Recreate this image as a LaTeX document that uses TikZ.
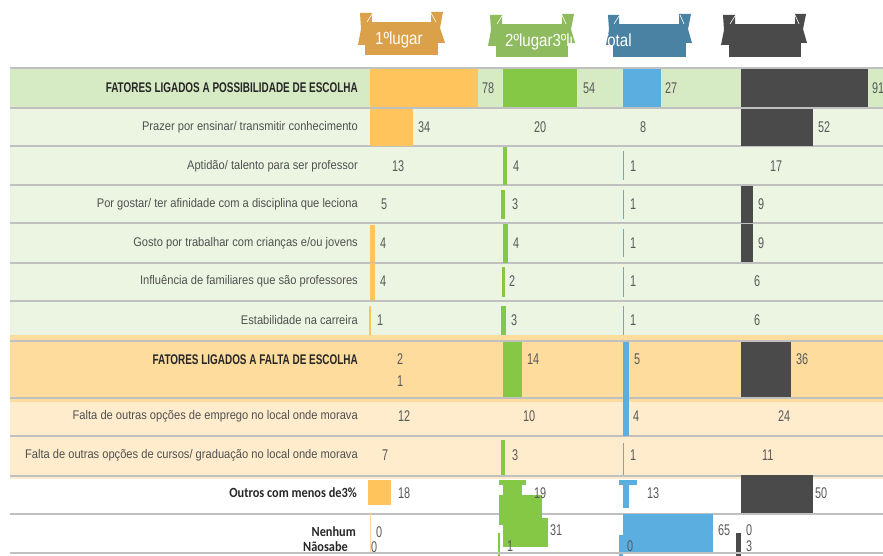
\documentclass[tikz,border=0pt]{standalone}
\usepackage{fontspec}
\setmainfont{Liberation Sans}[FakeStretch=0.89]
\newfontfamily\numfont{Liberation Sans}[FakeStretch=0.70]
\newfontfamily\ribbonfont{Liberation Sans}[FakeStretch=0.86]
\newfontfamily\headfont{Liberation Sans}[FakeStretch=0.71]
\newfontfamily\calfont{Carlito}[FakeStretch=0.88]
\usepackage{tikz}

\definecolor{barone}{RGB}{255,196,92}
\definecolor{bartwo}{RGB}{133,200,69}
\definecolor{barthree}{RGB}{90,175,224}
\definecolor{bartotal}{RGB}{74,74,74}
\definecolor{ribone}{RGB}{219,160,74}
\definecolor{ribtwo}{RGB}{141,187,94}
\definecolor{ribthree}{RGB}{74,130,163}
\definecolor{greenhead}{RGB}{214,235,196}
\definecolor{greenrow}{RGB}{236,245,226}
\definecolor{orangehead}{RGB}{253,220,158}
\definecolor{orangerow}{RGB}{254,236,204}
\definecolor{rulegray}{RGB}{192,192,192}
\definecolor{numgray}{RGB}{89,89,89}
\definecolor{textgray}{RGB}{80,80,80}

\tikzset{
  rowtext/.style={anchor=east, inner sep=0pt, text=textgray,
                  font=\fontsize{12.5}{13}\selectfont},
  rowhead/.style={anchor=east, inner sep=0pt, text=black!85,
                  font=\headfont\bfseries\fontsize{14}{14}\selectfont},
  othertext/.style={anchor=east, inner sep=0pt, text=black!85,
                  font=\calfont\bfseries\fontsize{14}{14}\selectfont},
  num/.style={anchor=west, inner sep=0pt, text=numgray,
              font=\numfont\fontsize{15.5}{16}\selectfont},
  rowline/.style={draw=rulegray, line width=1.5pt},
  ribtext/.style={anchor=west, inner sep=0pt, text=white,
                  font=\ribbonfont\fontsize{17.5}{18}\selectfont},
  fold/.style={draw=white!75, line width=0.6pt}
}

\begin{document}
\begin{tikzpicture}[x=1pt,y=-1pt]
        \useasboundingbox (0,0) rectangle (883,556);
        \clip (0,0) rectangle (883,556);

        % ribbons
        \fill[ribone] (360,13) -- (372,13) -- (372,45) -- (358,45) -- (361,29) -- cycle;
        \fill[ribone] (431,12) -- (443,12) -- (440,28) -- (445,43) -- (431,43) -- cycle;
        \fill[ribone] (365,22) rectangle (438,55);
        \draw[fold] (367,22) -- (372,14);
        \draw[fold] (436,22) -- (431,13);
        \fill[ribtwo] (490,15) -- (502,15) -- (502,46) -- (488,46) -- (491,30) -- cycle;
        \fill[ribtwo] (562,14) -- (574,14) -- (571,29) -- (575,43) -- (562,43) -- cycle;
        \fill[ribtwo] (496,24) rectangle (568,57);
        \draw[fold] (497,24) -- (502,16);
        \draw[fold] (566,24) -- (562,15);
        \fill[ribthree] (608,15) -- (619,15) -- (619,45) -- (606,45) -- (609,30) -- cycle;
        \fill[ribthree] (679,14) -- (691,14) -- (688,29) -- (692,43) -- (679,43) -- cycle;
        \fill[ribthree] (613,24) rectangle (686,57);
        \draw[fold] (614,24) -- (619,16);
        \draw[fold] (684,24) -- (680,15);
        \fill[bartotal] (723,15) -- (735,15) -- (735,45) -- (721,45) -- (724,30) -- cycle;
        \fill[bartotal] (795,14) -- (806,14) -- (803,29) -- (807,43) -- (795,43) -- cycle;
        \fill[bartotal] (729,24) rectangle (801,57);
        \draw[fold] (730,24) -- (735,16);
        \draw[fold] (799,24) -- (795,15);
        \node[ribtext] (first) at (375,40) {1ºlugar};
        \node[ribtext] (others) at (505,42) {2ºlugar3ºlugarTotal};

        % row backgrounds
        \fill[greenhead] (10,68) rectangle (883,108);
        \fill[greenrow] (10,108) rectangle (883,335);
        \fill[orangehead] (10,335) rectangle (883,402);
        \fill[orangerow] (10,402) rectangle (883,476);
        \fill[orangerow] (10,476) rectangle (883,479);

        % rules
        \draw[rowline] (10,68) -- (883,68);
        \draw[rowline] (10,108) -- (883,108);
        \draw[rowline] (10,146) -- (883,146);
        \draw[rowline] (10,185) -- (883,185);
        \draw[rowline] (10,223) -- (883,223);
        \draw[rowline] (10,263) -- (883,263);
        \draw[rowline] (10,301) -- (883,301);
        \draw[rowline] (10,341) -- (883,341);
        \draw[rowline] (10,398) -- (883,398);
        \draw[rowline] (10,436) -- (883,436);
        \draw[rowline] (10,476) -- (883,476);
        \draw[rowline] (10,514) -- (883,514);

        % bars
        \fill[barone] (370,69) rectangle (478,107);
        \fill[bartwo] (503,69) rectangle (577,107);
        \fill[barthree] (623,69) rectangle (661,107);
        \fill[bartotal] (741,69) rectangle (868,107);
        \fill[barone] (370,109) rectangle (413,146);
        \fill[bartotal] (741,109) rectangle (813,146);
        \fill[bartwo] (503,147) rectangle (507,185);
        \fill[barthree] (622.5,151) rectangle (624,180);
        \fill[bartwo] (501,190) rectangle (505,219);
        \fill[barthree] (622.5,190) rectangle (624,219);
        \fill[bartotal] (741,186) rectangle (753,223);
        \fill[barone] (370,225) rectangle (375,262);
        \fill[bartwo] (503,224) rectangle (508,263);
        \fill[barthree] (622.5,229) rectangle (624,257);
        \fill[bartotal] (741,224) rectangle (753,262);
        \fill[barone] (370,263) rectangle (375,300);
        \fill[bartwo] (502,267) rectangle (505,297);
        \fill[barthree] (622.5,267) rectangle (624,297);
        \fill[barone] (369,306) rectangle (371,335);
        \fill[bartwo] (501,306) rectangle (506,335);
        \fill[barthree] (622.5,306) rectangle (624,335);
        \fill[bartwo] (503,342) rectangle (522,397);
        \fill[barthree] (623,342) rectangle (629,436);
        \fill[bartotal] (741,342) rectangle (791,397);
        \fill[bartwo] (501,440) rectangle (505,475);
        \fill[barthree] (622.5,443) rectangle (624,475);
        \fill[barone] (368,480) rectangle (391,505);
        \fill[bartwo] (499,480) rectangle (526,485);
        \fill[bartwo] (503,485) rectangle (522,495);
        \fill[bartwo] (499,495) rectangle (542,525);
        \fill[bartwo] (503,518) rectangle (548,547);
        \fill[bartwo] (498,533) rectangle (500,556);
        \fill[barthree] (619,480) rectangle (637,485);
        \fill[barthree] (623,485) rectangle (629,508);
        \fill[barthree] (623,514) rectangle (713,552);
        \fill[barthree] (619,535) rectangle (623,556);
        \fill[bartotal] (741,475) rectangle (813,513);
        \fill[bartotal] (736,533) rectangle (741,556);
        \fill[barone!60] (370,514) rectangle (371,552);

        % row labels
        \node[rowhead] (headpos) at (358,88) {FATORES LIGADOS A POSSIBILIDADE DE ESCOLHA};
        \node[rowtext] (prazer) at (358,127) {Prazer por ensinar/ transmitir conhecimento};
        \node[rowtext] (aptidao) at (358,166) {Aptidão/ talento para ser professor};
        \node[rowtext] (gostar) at (358,204) {Por gostar/ ter afinidade com a disciplina que leciona};
        \node[rowtext] (criancas) at (358,243) {Gosto por trabalhar com crianças e/ou jovens};
        \node[rowtext] (familia) at (358,281) {Influência de familiares que são professores};
        \node[rowtext] (estab) at (358,320) {Estabilidade na carreira};
        \node[rowhead] (headfalta) at (358,360) {FATORES LIGADOS A FALTA DE ESCOLHA};
        \node[rowtext] (emprego) at (358,416) {Falta de outras opções de emprego no local onde morava};
        \node[rowtext] (cursos) at (358,455) {Falta de outras opções de cursos/ graduação no local onde morava};
        \node[othertext] (outros) at (357,493) {Outros com menos de3\%};
        \node[othertext] (nenhum) at (356,532) {Nenhum};
        \node[othertext] (naosabe) at (348,547) {Nãosabe};

        % values
        \node[num] (va1) at (482,88) {78};
        \node[num] (vb1) at (583,88) {54};
        \node[num] (vc1) at (665,88) {27};
        \node[num] (vt1) at (872,88) {91};
        \node[num] (va2) at (418,127) {34};
        \node[num] (vb2) at (534,127) {20};
        \node[num] (vc2) at (640,127) {8};
        \node[num] (vt2) at (818,127) {52};
        \node[num] (va3) at (392,166) {13};
        \node[num] (vb3) at (513,166) {4};
        \node[num] (vc3) at (630,166) {1};
        \node[num] (vt3) at (770,166) {17};
        \node[num] (va4) at (381,204) {5};
        \node[num] (vb4) at (512,204) {3};
        \node[num] (vc4) at (630,204) {1};
        \node[num] (vt4) at (758,204) {9};
        \node[num] (va5) at (380,243) {4};
        \node[num] (vb5) at (513,243) {4};
        \node[num] (vc5) at (630,243) {1};
        \node[num] (vt5) at (758,243) {9};
        \node[num] (va6) at (380,281) {4};
        \node[num] (vb6) at (509,281) {2};
        \node[num] (vc6) at (630,281) {1};
        \node[num] (vt6) at (754,281) {6};
        \node[num] (va7) at (377,320) {1};
        \node[num] (vb7) at (511,320) {3};
        \node[num] (vc7) at (630,320) {1};
        \node[num] (vt7) at (754,320) {6};
        \node[num] (va8) at (397,359) {2};
        \node[num] (va8b) at (397,381) {1};
        \node[num] (vb8) at (527,359) {14};
        \node[num] (vc8) at (634,359) {5};
        \node[num] (vt8) at (796,359) {36};
        \node[num] (va9) at (398,416) {12};
        \node[num] (vb9) at (523,416) {10};
        \node[num] (vc9) at (633,416) {4};
        \node[num] (vt9) at (778,416) {24};
        \node[num] (va10) at (382,455) {7};
        \node[num] (vb10) at (512,455) {3};
        \node[num] (vc10) at (630,455) {1};
        \node[num] (vt10) at (762,455) {11};
        \node[num] (va11) at (398,493) {18};
        \node[num] (vb11) at (534,493) {19};
        \node[num] (vc11) at (647,493) {13};
        \node[num] (vt11) at (815,493) {50};
        \node[num] (va12) at (376,532) {0};
        \node[num] (va12b) at (371,547) {0};
        \node[num] (vb12) at (550,530) {31};
        \node[num] (vb12b) at (507,546) {1};
        \node[num] (vc12) at (718,530) {65};
        \node[num] (vc12b) at (627,546) {0};
        \node[num] (vt12) at (746,530) {0};
        \node[num] (vt12b) at (746,546) {3};

        \draw[rowline] (10,553) -- (883,553);
\end{tikzpicture}
\end{document}
